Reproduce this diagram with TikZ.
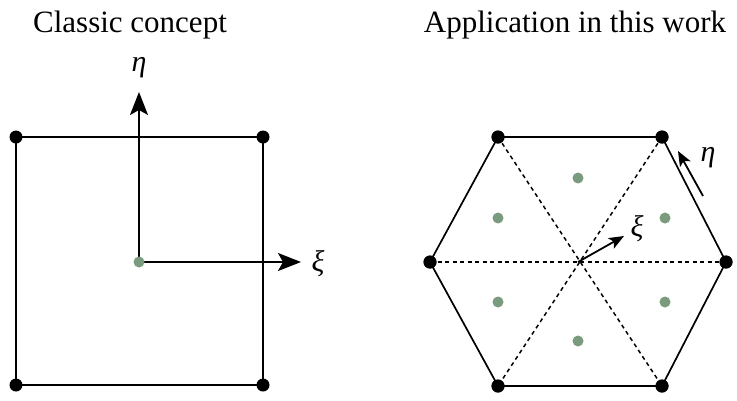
\documentclass[tikz,border=0pt]{standalone}
\usepackage{fontspec}
\setmainfont{Liberation Serif}
\usetikzlibrary{arrows.meta}
\definecolor{gdot}{RGB}{122,155,125}
\tikzset{
  edge/.style={line width=1.7pt},
  diag/.style={line width=1.5pt, dash pattern=on 4pt off 3.5pt},
  vert/.style={circle, fill=black, inner sep=0pt, minimum size=13pt},
  gauss/.style={circle, fill=gdot, inner sep=0pt, minimum size=11pt},
  bigarrow/.style={line width=1.8pt, -{Stealth[length=23pt,width=18pt,inset=5pt]}},
  smallarrow/.style={line width=1.8pt, -{Stealth[length=15pt,width=12pt,inset=3.5pt]}},
  title/.style={font=\fontsize{31}{36}\selectfont, anchor=base, inner sep=0pt},
  lab/.style={font=\fontsize{30}{34}\selectfont\itshape, inner sep=0pt}
}
\begin{document}
\begin{tikzpicture}[x=1pt,y=-1pt]
\useasboundingbox (0,0) rectangle (737,400);
% titles
\node[title] (t1) at (130,32) {Classic concept};
\node[title] (t2) at (575,32) {Application in this work};
% square
\node[vert] (s1) at (16,137) {};
\node[vert] (s2) at (263,137) {};
\node[vert] (s3) at (263,385) {};
\node[vert] (s4) at (16,385) {};
\draw[edge] (s1.center) -- (s2.center) -- (s3.center) -- (s4.center) -- cycle;
\coordinate (sc) at (139,262);
\coordinate (etatip) at (139,92);
\coordinate (xitip) at (301,262);
\draw[bigarrow] (sc) -- (etatip);
\draw[bigarrow] (sc) -- (xitip);
\node[gauss] (g0) at (sc) {};
\node[lab] (eta1) at (139,68) {η};
\node[lab] (xi1) at (318,264) {ξ};
% hexagon
\coordinate (hc) at (578,262);
\node[vert] (h1) at (430,262) {};
\node[vert] (h2) at (498,137) {};
\node[vert] (h3) at (662,137) {};
\node[vert] (h4) at (726,262) {};
\node[vert] (h5) at (662,386) {};
\node[vert] (h6) at (498,386) {};
\draw[diag] (h1.center) -- (h4.center);
\draw[diag] (h2.center) -- (h5.center);
\draw[diag] (h3.center) -- (h6.center);
\draw[edge] (h1.center) -- (h2.center) -- (h3.center) -- (h4.center) -- (h5.center) -- (h6.center) -- cycle;
\node[vert] at (h1) {};
\node[vert] at (h2) {};
\node[vert] at (h3) {};
\node[vert] at (h4) {};
\node[vert] at (h5) {};
\node[vert] at (h6) {};
\node[gauss] (p1) at (578,178) {};
\node[gauss] (p2) at (498,218) {};
\node[gauss] (p3) at (665,218) {};
\node[gauss] (p4) at (498,302) {};
\node[gauss] (p5) at (665,302) {};
\node[gauss] (p6) at (578,341) {};
\coordinate (hxitip) at (624,236);
\draw[smallarrow] (hc) -- (hxitip);
\node[lab] (xi2) at (637,229) {ξ};
\coordinate (hetatail) at (703,196);
\coordinate (hetatip) at (678,151);
\draw[smallarrow] (hetatail) -- (hetatip);
\node[lab] (eta2) at (708,158) {η};
\end{tikzpicture}
\end{document}
